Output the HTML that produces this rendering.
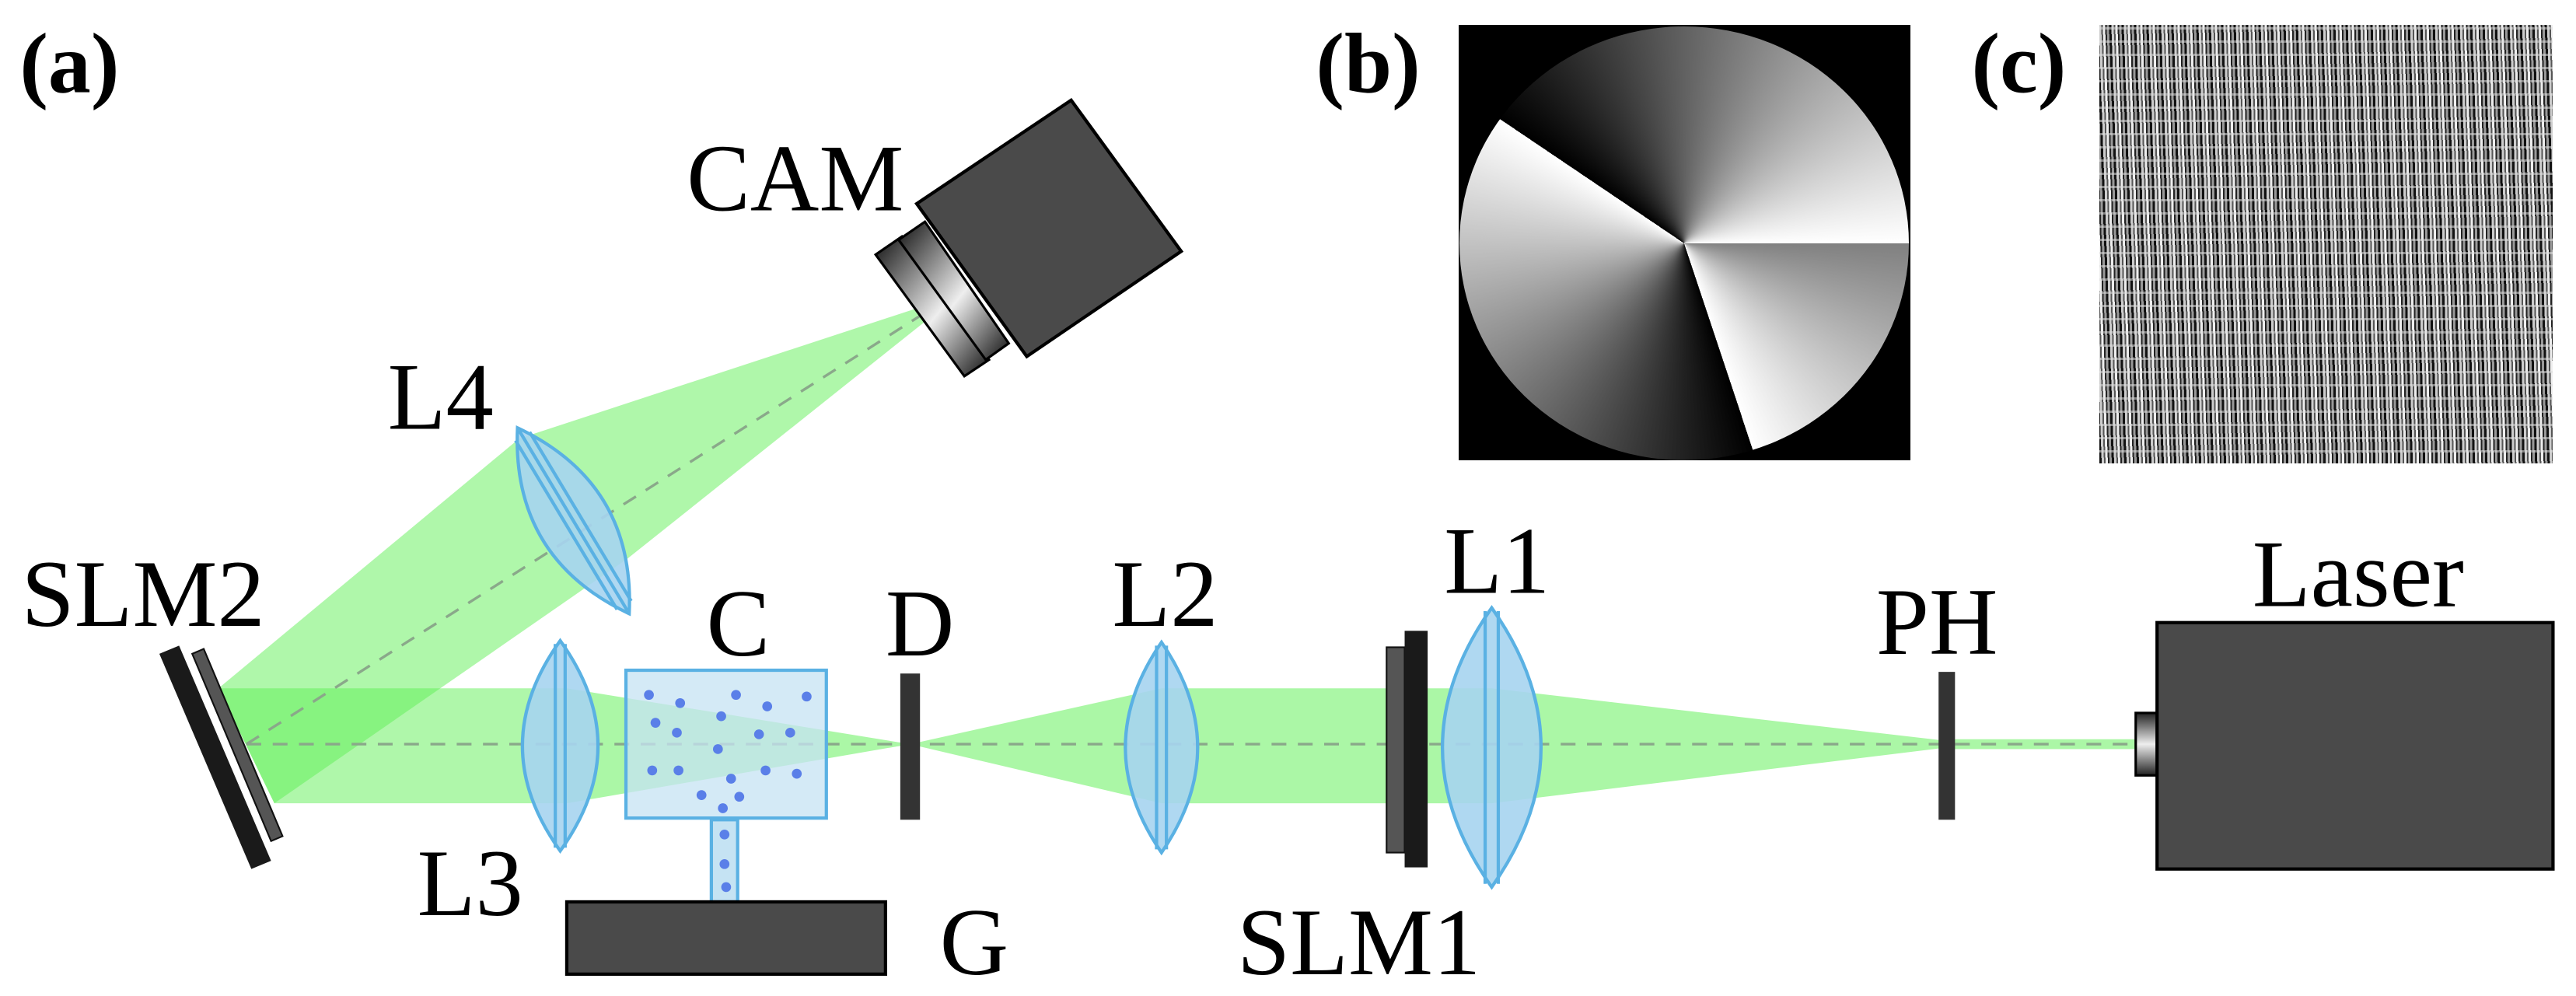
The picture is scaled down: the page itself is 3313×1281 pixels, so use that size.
<!DOCTYPE html>
<html><head><meta charset="utf-8"><style>
html,body{margin:0;padding:0;background:#fff;}
#wrap{position:relative;width:3313px;height:1281px;overflow:hidden;background:#fff;}
svg{position:absolute;left:0;top:0;}
svg text{font-family:"Liberation Serif","DejaVu Serif","Times New Roman",serif;}
#pb{position:absolute;left:1876px;top:32px;width:581px;height:560px;background:#000;overflow:hidden;}
#pb div{position:absolute;left:1px;top:2px;width:578px;height:558px;border-radius:50%;
background:conic-gradient(#616161 0deg,#fff 90deg,#808080 90deg,#fff 161.6deg,#000 161.6deg,#fff 304deg,#000 304deg,#616161 360deg);}
#pc{position:absolute;left:2700px;top:32px;width:583px;height:564px;
background:
repeating-linear-gradient(0deg,rgba(255,255,255,0) 0px,rgba(255,255,255,0) 14px,rgba(220,220,220,0.55) 14px,rgba(220,220,220,0.55) 17px),
repeating-linear-gradient(88deg,#111 0px,#111 3px,#ccc 3px,#ccc 6px,#555 6px,#555 8px,#eee 8px,#eee 11px,#222 11px,#222 13px,#999 13px,#999 16px),
#777;}
</style></head><body><div id="wrap">
<svg width="3313" height="1281" viewBox="0 0 1568 606.3" preserveAspectRatio="none">
<defs>
<linearGradient id="camg" x1="0" y1="0" x2="1" y2="1">
<stop offset="0" stop-color="#111"/><stop offset="0.55" stop-color="#eee"/><stop offset="1" stop-color="#111"/></linearGradient>
<linearGradient id="lasg" x1="0" y1="0" x2="0" y2="1">
<stop offset="0" stop-color="#222"/><stop offset="0.5" stop-color="#eee"/><stop offset="1" stop-color="#222"/></linearGradient>
</defs>
<g fill="rgb(95,240,85)" fill-opacity="0.5">
<polygon points="133,419 316,267 557,188 564,195 382,340 167,489"/>
<polygon points="133,419 345,419 345,489 167,489"/>
</g>
<g fill="#abf7a6">
<polygon points="345,419 554,453 345,489"/>
<polygon points="554,453 707,419 707,489"/>
<rect x="707" y="419" width="201" height="70"/>
<polygon points="908,419 1185,451 1185,455 908,489"/>
<rect x="1185" y="450" width="116" height="6"/>
</g>
<g stroke="#8aa88a" stroke-width="1.6" stroke-dasharray="9,7" fill="none">
<line x1="150" y1="453" x2="1300" y2="453"/>
<line x1="150" y1="453" x2="562" y2="191"/>
</g>
<polygon points="117,398 124,395 172,509 165,512" fill="#555" stroke="#111" stroke-width="1"/>
<polygon points="97,398 109,393 165,524 153,529" fill="#1a1a1a"/>
<g fill="#a6d4ef" fill-opacity="0.9" stroke="#5ab1e3" stroke-width="2">
<g transform="translate(341,454)"><path d="M0,-64 Q46,0 0,64 Q-46,0 0,-64Z"/><line x1="-3" y1="-62" x2="-3" y2="62"/><line x1="3" y1="-62" x2="3" y2="62"/></g>
<g transform="translate(707,455)"><path d="M0,-64 Q44,0 0,64 Q-44,0 0,-64Z"/><line x1="-3" y1="-62" x2="-3" y2="62"/><line x1="3" y1="-62" x2="3" y2="62"/></g>
<g transform="translate(349,317) rotate(-31)"><path d="M0,-66 Q44,0 0,66 Q-44,0 0,-66Z"/><line x1="-5" y1="-60" x2="-5" y2="60"/><line x1="0" y1="-64" x2="0" y2="64"/><line x1="5" y1="-60" x2="5" y2="60"/></g>
</g>
<rect x="844" y="394" width="11" height="125" fill="#555" stroke="#111" stroke-width="1"/>
<rect x="855" y="384" width="14" height="144" fill="#1a1a1a"/>
<g fill="#a6d4ef" fill-opacity="0.9" stroke="#5ab1e3" stroke-width="2">
<g transform="translate(908,455)"><path d="M0,-85 Q60,0 0,85 Q-60,0 0,-85Z"/><line x1="-4" y1="-83" x2="-4" y2="83"/><line x1="4" y1="-83" x2="4" y2="83"/></g>
</g>
<rect x="433" y="499" width="16" height="50" fill="#c5e3f3" stroke="#5ab1e3" stroke-width="2"/>
<rect x="381" y="408" width="122" height="90" fill="#c5e3f3" fill-opacity="0.75" stroke="#5ab1e3" stroke-width="2"/>
<g fill="#5a7fe8">
<circle cx="395" cy="423" r="3"/><circle cx="414" cy="428" r="3"/><circle cx="448" cy="423" r="3"/><circle cx="467" cy="430" r="3"/><circle cx="491" cy="424" r="3"/>
<circle cx="399" cy="440" r="3"/><circle cx="439" cy="436" r="3"/><circle cx="412" cy="446" r="3"/><circle cx="462" cy="447" r="3"/><circle cx="481" cy="446" r="3"/>
<circle cx="437" cy="456" r="3"/><circle cx="397" cy="469" r="3"/><circle cx="413" cy="469" r="3"/><circle cx="445" cy="474" r="3"/><circle cx="466" cy="469" r="3"/><circle cx="485" cy="471" r="3"/>
<circle cx="427" cy="484" r="3"/><circle cx="450" cy="485" r="3"/><circle cx="440" cy="492" r="3"/><circle cx="441" cy="508" r="3"/><circle cx="441" cy="526" r="3"/><circle cx="442" cy="540" r="3"/>
</g>
<rect x="345" y="549" width="194" height="44" fill="#4a4a4a" stroke="#000" stroke-width="2"/>
<rect x="548" y="410" width="12" height="89" fill="#333"/>
<rect x="1180" y="409" width="10" height="90" fill="#333"/>
<rect x="1300" y="434" width="13" height="38" fill="url(#lasg)" stroke="#000" stroke-width="1.5"/>
<rect x="1313" y="379" width="241" height="150" fill="#4a4a4a" stroke="#000" stroke-width="2"/>
<polygon points="533,155 549,144 602,219 587,229" fill="url(#camg)" stroke="#000" stroke-width="1.5"/>
<polygon points="547,146 563,135 614,209 600,219" fill="url(#camg)" stroke="#000" stroke-width="1.5"/>
<polygon points="558,124 652,61 719,153 625,217" fill="#4a4a4a" stroke="#000" stroke-width="2"/>
<g font-size="58" fill="#000">
<text x="418" y="128">CAM</text>
<text x="236" y="261">L4</text>
<text x="13" y="381">SLM2</text>
<text x="430" y="399">C</text>
<text x="539" y="399">D</text>
<text x="677" y="381">L2</text>
<text x="254" y="557">L3</text>
<text x="572" y="593">G</text>
<text x="753" y="593">SLM1</text>
<text x="879" y="361">L1</text>
<text x="1142" y="398">PH</text>
<text x="1371" y="369">Laser</text>
</g>
<g font-size="52" font-weight="bold" fill="#000">
<text x="12" y="56">(a)</text>
<text x="801" y="56">(b)</text>
<text x="1200" y="56">(c)</text>
</g>
</svg>
<div id="pb"><div></div></div>
<div id="pc"></div>
</div></body></html>
